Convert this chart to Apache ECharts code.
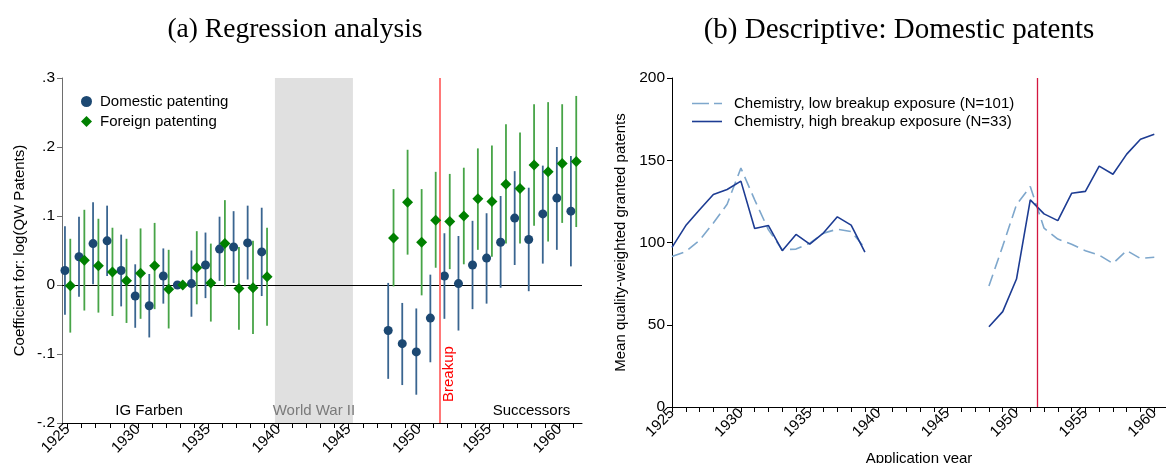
<!DOCTYPE html>
<html>
<head>
<meta charset="utf-8">
<script src="https://cdn.jsdelivr.net/npm/echarts@6/dist/echarts.min.js"></script>
<style>
  html, body { margin: 0; padding: 0; background: #ffffff; }
  #chart { width: 1166px; height: 463px; }
</style>
</head>
<body>
<div id="chart"></div>
<script>
// ---- (a) Regression coefficients by application year ----
const regYears = [1925, 1926, 1927, 1928, 1929, 1930, 1931, 1932, 1933, 1934, 1935, 1936, 1937, 1938, 1939,
                  1948, 1949, 1950, 1951, 1952, 1953, 1954, 1955, 1956, 1957, 1958, 1959, 1960, 1961];

const domCoef = [0.021, 0.041, 0.060, 0.064, 0.021, -0.016, -0.030, 0.013, 0, 0.002, 0.029, 0.052, 0.055, 0.061, 0.048,
                 -0.066, -0.085, -0.097, -0.048, 0.013, 0.002, 0.029, 0.039, 0.062, 0.097, 0.066, 0.103, 0.126, 0.107];
const domLo   = [-0.043, -0.017, 0.001, 0.013, -0.031, -0.062, -0.076, -0.027, null, -0.046, -0.019, 0.006, 0.003, 0.008, -0.016,
                 -0.136, -0.145, -0.159, -0.112, -0.049, -0.066, -0.035, -0.027, -0.004, 0.029, -0.009, 0.031, 0.051, 0.027];
const domHi   = [0.085, 0.099, 0.120, 0.115, 0.073, 0.030, 0.016, 0.053, null, 0.050, 0.076, 0.099, 0.107, 0.115, 0.112,
                 0.003, -0.026, -0.034, 0.015, 0.075, 0.071, 0.093, 0.104, 0.129, 0.165, 0.141, 0.173, 0.200, 0.187];

const forCoef = [-0.001, 0.036, 0.028, 0.019, 0.006, 0.017, 0.028, -0.006, 0, 0.025, 0.003, 0.060, -0.005, -0.004, 0.012,
                 0.068, 0.120, 0.062, 0.094, 0.092, 0.100, 0.125, 0.121, 0.146, 0.140, 0.174, 0.164, 0.176, 0.179];
const forLo   = [-0.069, -0.037, -0.040, -0.045, -0.055, -0.049, -0.035, -0.063, null, -0.028, -0.053, -0.002, -0.065, -0.071, -0.059,
                 -0.002, 0.044, -0.015, 0.025, 0.023, 0.030, 0.051, 0.041, 0.060, 0.060, 0.086, 0.063, 0.090, 0.084];
const forHi   = [0.067, 0.109, 0.096, 0.083, 0.067, 0.082, 0.090, 0.051, null, 0.078, 0.060, 0.123, 0.055, 0.064, 0.083,
                 0.139, 0.196, 0.139, 0.164, 0.161, 0.170, 0.198, 0.202, 0.233, 0.221, 0.262, 0.265, 0.262, 0.274];

// ---- (b) Mean quality-weighted granted patents ----
const descYears = [1925, 1926, 1927, 1928, 1929, 1930, 1931, 1932, 1933, 1934, 1935, 1936, 1937, 1938, 1939,
                   1948, 1949, 1950, 1951, 1952, 1953, 1954, 1955, 1956, 1957, 1958, 1959, 1960];
const lowExposure  = [91.5, 94.5, 101.4, 111.8, 123.3, 145.2, 125.9, 107.7, 95.6, 96.0, 99.6, 105.7, 108.1, 106.7, 96.6,
                      73.5, 97.8, 123.0, 134.0, 108.7, 102.1, 98.9, 95.0, 92.3, 87.3, 95.1, 90.3, 91.0];
const highExposure = [97.0, 110.3, 119.9, 129.2, 132.2, 137.3, 108.5, 110.3, 95.0, 104.9, 99.0, 105.9, 115.6, 110.6, 94.2,
                      48.8, 58.0, 77.8, 125.9, 117.4, 113.3, 129.9, 131.1, 146.4, 141.5, 153.7, 162.8, 165.8];

// ---- axis ticks and periods ----
const regTickYears   = [1925, 1926, 1927, 1928, 1929, 1930, 1931, 1932, 1933, 1934, 1935, 1936, 1937, 1938, 1939, 1940, 1941, 1942, 1943,
                        1944, 1945, 1946, 1947, 1948, 1949, 1950, 1951, 1952, 1953, 1954, 1955, 1956, 1957, 1958, 1959, 1960, 1961];
const labelYears     = [1925, 1930, 1935, 1940, 1945, 1950, 1955, 1960];
const descTickYears  = regTickYears.slice(0, 36);
const warPeriod      = [1939.75, 1945.3];
const breakupYear    = 1951.5;
const zeroLevel      = 0;

const SANS = '"Liberation Sans", Arial, sans-serif';
const SERIF = '"Liberation Serif", "Times New Roman", serif';

const DOM_COLOR = '#1c4872';
const DOM_CI = '#3a6590';
const FOR_COLOR = '#008000';
const FOR_CI = '#47a447';
const LOW_COLOR = '#7ea7cc';
const HIGH_COLOR = '#1d3c93';
const SHIFT = 0.19; // side-by-side offset of the two estimates within a year

// legend keys for the two lines: a dashed and a solid stroke
const DASH_ICON = 'path://M0,0h17v1.6h-17zM22,0h8v1.6h-8z';
const SOLID_ICON = 'path://M0,0h30v1.6h-30z';

function pointData(coef, shift) {
  return regYears.map((y, i) => [y + shift, coef[i]]);
}
function ciData(lo, hi, shift) {
  const out = [];
  regYears.forEach((y, i) => { if (lo[i] !== null) out.push([y + shift, lo[i], hi[i]]); });
  return out;
}
function ciRenderer(color) {
  return function (params, api) {
    const a = api.coord([api.value(0), api.value(1)]);
    const b = api.coord([api.value(0), api.value(2)]);
    return { type: 'line', shape: { x1: a[0], y1: a[1], x2: b[0], y2: b[1] },
             style: { stroke: color, lineWidth: 1.8 } };
  };
}
// full-height band between two years
function bandRenderer(params, api) {
  const cs = params.coordSys;
  const x0 = api.coord([api.value(0), 0])[0];
  const x1 = api.coord([api.value(1), 0])[0];
  return { type: 'rect', shape: { x: x0, y: cs.y, width: x1 - x0, height: cs.height },
           style: { fill: '#e0e0e0' } };
}
// full-width horizontal reference line at a given coefficient
function hLineRenderer(params, api) {
  const cs = params.coordSys;
  const y = Math.round(api.coord([api.value(0), api.value(1)])[1]) + 0.5;
  return { type: 'line', shape: { x1: cs.x, y1: y, x2: cs.x + cs.width, y2: y },
           style: { stroke: '#000', lineWidth: 1 } };
}
function lineData(values) {
  const out = [];
  descYears.forEach((y, i) => {
    if (i > 0 && y - descYears[i - 1] > 1) out.push([y - 0.5, '-']);
    out.push([y, values[i]]);
  });
  return out;
}
function coefLabel(v) {
  if (Math.abs(v) < 1e-9) return '0';
  const s = Math.abs(v).toFixed(1).replace(/^0/, '');
  return (v < 0 ? '-' : '') + s;
}

const chart = echarts.init(document.getElementById('chart'), null, { renderer: 'canvas' });

const xLabelStyle = { rotate: 45, fontSize: 15, color: '#000', fontFamily: SANS, margin: 4 };

const option = {
  animation: false,
  backgroundColor: '#ffffff',
  textStyle: { fontFamily: SANS },
  title: [
    { text: '(a) Regression analysis', left: 290, top: 11, textAlign: 'center',
      textStyle: { fontFamily: SERIF, fontSize: 27.5, fontWeight: 'normal', color: '#000' } },
    { text: '(b) Descriptive: Domestic patents', left: 894, top: 11, textAlign: 'center',
      textStyle: { fontFamily: SERIF, fontSize: 29, fontWeight: 'normal', color: '#000' } }
  ],
  legend: [
    { data: ['Domestic patenting', 'Foreign patenting'], orient: 'vertical', left: 76, top: 89,
      itemWidth: 11, itemHeight: 11, itemGap: 5,
      textStyle: { fontSize: 15, color: '#000', fontFamily: SANS, padding: [0, 0, 0, 3] } },
    { data: [{ name: 'Chemistry, low breakup exposure (N=101)', icon: DASH_ICON },
             { name: 'Chemistry, high breakup exposure (N=33)', icon: SOLID_ICON }],
      orient: 'vertical', left: 687, top: 91, itemWidth: 30, itemHeight: 1.6, itemGap: 3,
      textStyle: { fontSize: 15, color: '#000', fontFamily: SANS, padding: [0, 0, 0, 7] } }
  ],
  grid: [
    { left: 62, top: 78, width: 520, height: 345, outerBoundsMode: 'none', containLabel: false },
    { left: 672, top: 78, width: 494, height: 329, outerBoundsMode: 'none', containLabel: false }
  ],
  xAxis: [
    { gridIndex: 0, type: 'value', min: 1924.6, max: 1961.6,
      axisLine: { onZero: false, lineStyle: { color: '#000', width: 1 } },
      axisTick: { show: true, length: 5, customValues: regTickYears, lineStyle: { color: '#000' } },
      axisLabel: Object.assign({ customValues: labelYears, formatter: v => String(v) }, xLabelStyle),
      splitLine: { show: false } },
    { gridIndex: 1, type: 'value', min: 1925, max: 1960.85,
      name: 'Application year', nameLocation: 'middle', nameGap: 44,
      nameTextStyle: { fontSize: 15, color: '#000', fontFamily: SANS },
      axisLine: { onZero: false, lineStyle: { color: '#000', width: 1 } },
      axisTick: { show: true, length: 5, customValues: descTickYears, lineStyle: { color: '#000' } },
      axisLabel: Object.assign({ customValues: labelYears, formatter: v => String(v) }, xLabelStyle),
      splitLine: { show: false } }
  ],
  yAxis: [
    { gridIndex: 0, type: 'value', min: -0.2, max: 0.3, interval: 0.1,
      name: 'Coefficient for: log(QW Patents)', nameLocation: 'middle', nameGap: 35,
      nameTextStyle: { fontSize: 15, color: '#000', fontFamily: SANS },
      axisLine: { show: true, onZero: false, lineStyle: { color: '#6e6e6e', width: 1 } },
      axisTick: { show: true, length: 5, lineStyle: { color: '#6e6e6e' } },
      axisLabel: { fontSize: 15.5, color: '#000', fontFamily: SANS, margin: 7, formatter: coefLabel },
      splitLine: { show: false } },
    { gridIndex: 1, type: 'value', min: 0, max: 200, interval: 50,
      name: 'Mean quality-weighted granted patents', nameLocation: 'middle', nameGap: 44,
      nameTextStyle: { fontSize: 15, color: '#000', fontFamily: SANS },
      axisLine: { show: true, onZero: false, lineStyle: { color: '#000', width: 1 } },
      axisTick: { show: true, length: 5, lineStyle: { color: '#000' } },
      axisLabel: { fontSize: 15.5, color: '#000', fontFamily: SANS, margin: 7 },
      splitLine: { show: false } }
  ],
  series: [
    // war-years shading for panel (a)
    { name: 'war', type: 'custom', xAxisIndex: 0, yAxisIndex: 0, z: 1, silent: true, clip: true,
      renderItem: bandRenderer, encode: { x: [0, 1] }, data: [warPeriod] },
    // zero line across panel (a)
    { name: 'zero', type: 'custom', xAxisIndex: 0, yAxisIndex: 0, z: 2, silent: true,
      renderItem: hLineRenderer, encode: { x: 0, y: 1 }, data: [[breakupYear, zeroLevel]] },
    // breakup marker for panel (a)
    { name: 'refs', type: 'line', xAxisIndex: 0, yAxisIndex: 0, data: [], z: 2, silent: true,
      markLine: { silent: true, symbol: 'none', animation: false, label: { show: false },
                  data: [{ xAxis: breakupYear, lineStyle: { color: '#ff7878', width: 2, type: 'solid' } }] } },
    { name: 'Domestic CI', type: 'custom', xAxisIndex: 0, yAxisIndex: 0, z: 3,
      renderItem: ciRenderer(DOM_CI), encode: { x: 0, y: [1, 2] }, data: ciData(domLo, domHi, -SHIFT) },
    { name: 'Domestic patenting', type: 'scatter', xAxisIndex: 0, yAxisIndex: 0, z: 4,
      symbol: 'circle', symbolSize: 9, itemStyle: { color: DOM_COLOR, opacity: 1 },
      data: pointData(domCoef, -SHIFT) },
    { name: 'Foreign CI', type: 'custom', xAxisIndex: 0, yAxisIndex: 0, z: 5,
      renderItem: ciRenderer(FOR_CI), encode: { x: 0, y: [1, 2] }, data: ciData(forLo, forHi, SHIFT) },
    { name: 'Foreign patenting', type: 'scatter', xAxisIndex: 0, yAxisIndex: 0, z: 6,
      symbol: 'diamond', symbolSize: 11, itemStyle: { color: FOR_COLOR, opacity: 1 },
      data: pointData(forCoef, SHIFT) },

    // panel (b)
    { name: 'Chemistry, low breakup exposure (N=101)', type: 'line', xAxisIndex: 1, yAxisIndex: 1, z: 3,
      symbol: 'none', showSymbol: false, connectNulls: false,
      lineStyle: { color: LOW_COLOR, width: 1.6, type: [12, 6] }, itemStyle: { color: LOW_COLOR },
      data: lineData(lowExposure),
      markLine: { silent: true, symbol: 'none', animation: false, label: { show: false },
                  data: [{ xAxis: breakupYear, lineStyle: { color: '#d3173f', width: 1.3, type: 'solid' } }] } },
    { name: 'Chemistry, high breakup exposure (N=33)', type: 'line', xAxisIndex: 1, yAxisIndex: 1, z: 4,
      symbol: 'none', showSymbol: false, connectNulls: false,
      lineStyle: { color: HIGH_COLOR, width: 1.6, type: 'solid' }, itemStyle: { color: HIGH_COLOR },
      data: lineData(highExposure) }
  ]
};

chart.setOption(option);

// Period names along the bottom of panel (a), and the rotated breakup note
const baseY = chart.convertToPixel({ xAxisIndex: 0, yAxisIndex: 0 }, [1925, -0.2])[1];
function xAt(year) { return chart.convertToPixel({ xAxisIndex: 0 }, year); }
const noteStyle = { fontSize: 15, fontFamily: SANS, textAlign: 'center', textVerticalAlign: 'middle' };
chart.setOption({
  graphic: [
    { type: 'text', x: xAt(1930.8), y: baseY - 12, z: 10, silent: true,
      style: Object.assign({ text: 'IG Farben', fill: '#000' }, noteStyle) },
    { type: 'text', x: xAt((warPeriod[0] + warPeriod[1]) / 2), y: baseY - 12, z: 10, silent: true,
      style: Object.assign({ text: 'World War II', fill: '#7a7a7a' }, noteStyle) },
    { type: 'text', x: xAt(1958.0), y: baseY - 12, z: 10, silent: true,
      style: Object.assign({ text: 'Successors', fill: '#000' }, noteStyle) },
    { type: 'text', x: xAt(breakupYear) + 9, y: baseY - 21, z: 10, silent: true, rotation: Math.PI / 2,
      style: { text: 'Breakup', fill: '#ff0000', fontSize: 15, fontFamily: SANS,
               textAlign: 'left', textVerticalAlign: 'middle' } }
  ]
});
</script>
</body>
</html>
